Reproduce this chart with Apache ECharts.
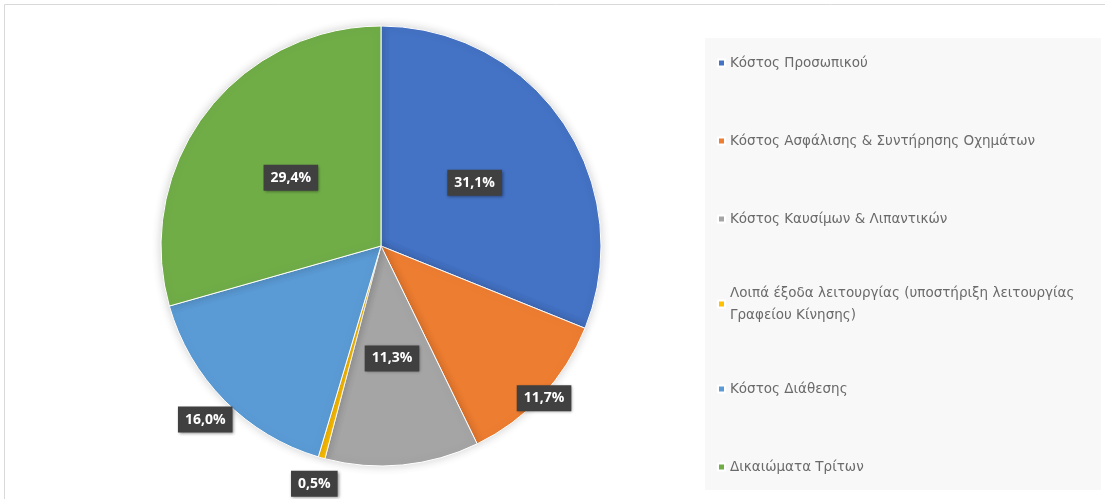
<!DOCTYPE html>
<html>
<head>
<meta charset="utf-8">
<script src="https://cdn.jsdelivr.net/npm/echarts@6/dist/echarts.min.js"></script>
<style>
  html, body { margin: 0; padding: 0; background: #fff; }
  #main { width: 1105px; height: 499px; }
</style>
</head>
<body>
<div id="main"></div>
<script type="text/javascript">
    // κατηγορίες και τιμές (%)
    var categories = [
        'Κόστος Προσωπικού',
        'Κόστος Ασφάλισης & Συντήρησης Οχημάτων',
        'Κόστος Καυσίμων & Λιπαντικών',
        'Λοιπά έξοδα λειτουργίας (υποστήριξη λειτουργίας Γραφείου Κίνησης)',
        'Κόστος Διάθεσης',
        'Δικαιώματα Τρίτων'
    ];
    var values = [31.1, 11.7, 11.3, 0.5, 16.0, 29.4];
    var colors = ['#4472C4', '#ED7D31', '#A5A5A5', '#FFC000', '#5B9BD5', '#70AD47'];
    // πού μπαίνει κάθε ετικέτα: μέσα, στην άκρη, έξω
    var labelRing = ['in', 'edge', 'in', 'out', 'out', 'in'];

    var myChart = echarts.init(document.getElementById('main'));

    var labelBox = {
        position: 'inside',
        color: '#fff',
        fontFamily: 'Open Sans',
        fontWeight: 'bold',
        fontSize: 14,
        backgroundColor: '#404040',
        padding: [6, 7],
        shadowColor: 'rgba(0,0,0,0.45)',
        shadowBlur: 3,
        shadowOffsetX: 1,
        shadowOffsetY: 1,
        formatter: function (p) {
            return p.value.toFixed(1).replace('.', ',') + '%';
        }
    };

    function ringData(ring) {
        return categories.map(function (name, i) {
            return { name: name, value: values[i], label: { show: labelRing[i] === ring } };
        });
    }

    function overlay(ring, outer) {
        return {
            type: 'pie',
            silent: true,
            center: [381, 246],
            radius: [0, outer],
            startAngle: 90,
            data: ringData(ring),
            itemStyle: { color: 'rgba(0,0,0,0)' },
            label: labelBox,
            labelLine: { show: false },
            emphasis: { disabled: true },
            z: 5
        };
    }

    var option = {
        animation: false,
        color: colors,
        graphic: [
            {
                type: 'rect', silent: true, z: -10,
                shape: { x: 4.5, y: 4.5, width: 1120, height: 520 },
                style: { fill: '#fff', stroke: '#d9d9d9', lineWidth: 1 }
            },
            {
                type: 'rect', silent: true, z: -9,
                shape: { x: 705, y: 38, width: 396, height: 452 },
                style: { fill: '#f8f8f8' }
            }
        ],
        legend: {
            orient: 'vertical',
            left: 712,
            top: 47,
            icon: 'rect',
            itemWidth: 7,
            itemHeight: 7,
            itemGap: 56,
            data: categories,
            formatter: function (name) {
                return name.replace('λειτουργίας Γραφείου', 'λειτουργίας\nΓραφείου');
            },
            textStyle: {
                color: '#6a6a6a',
                fontFamily: 'DejaVu Sans',
                fontSize: 13.5,
                lineHeight: 22,
                height: 22
            }
        },
        series: [
            {
                name: 'main',
                type: 'pie',
                center: [381, 246],
                radius: [0, 220],
                startAngle: 90,
                data: ringData('in'),
                itemStyle: {
                    borderColor: '#fff',
                    borderWidth: 1,
                    shadowColor: 'rgba(0,0,0,0.18)',
                    shadowBlur: 10
                },
                label: labelBox,
                labelLine: { show: false },
                emphasis: { disabled: true }
            },
            overlay('edge', 440),
            overlay('out', 488)
        ]
    };

    myChart.setOption(option);
</script>
</body>
</html>
